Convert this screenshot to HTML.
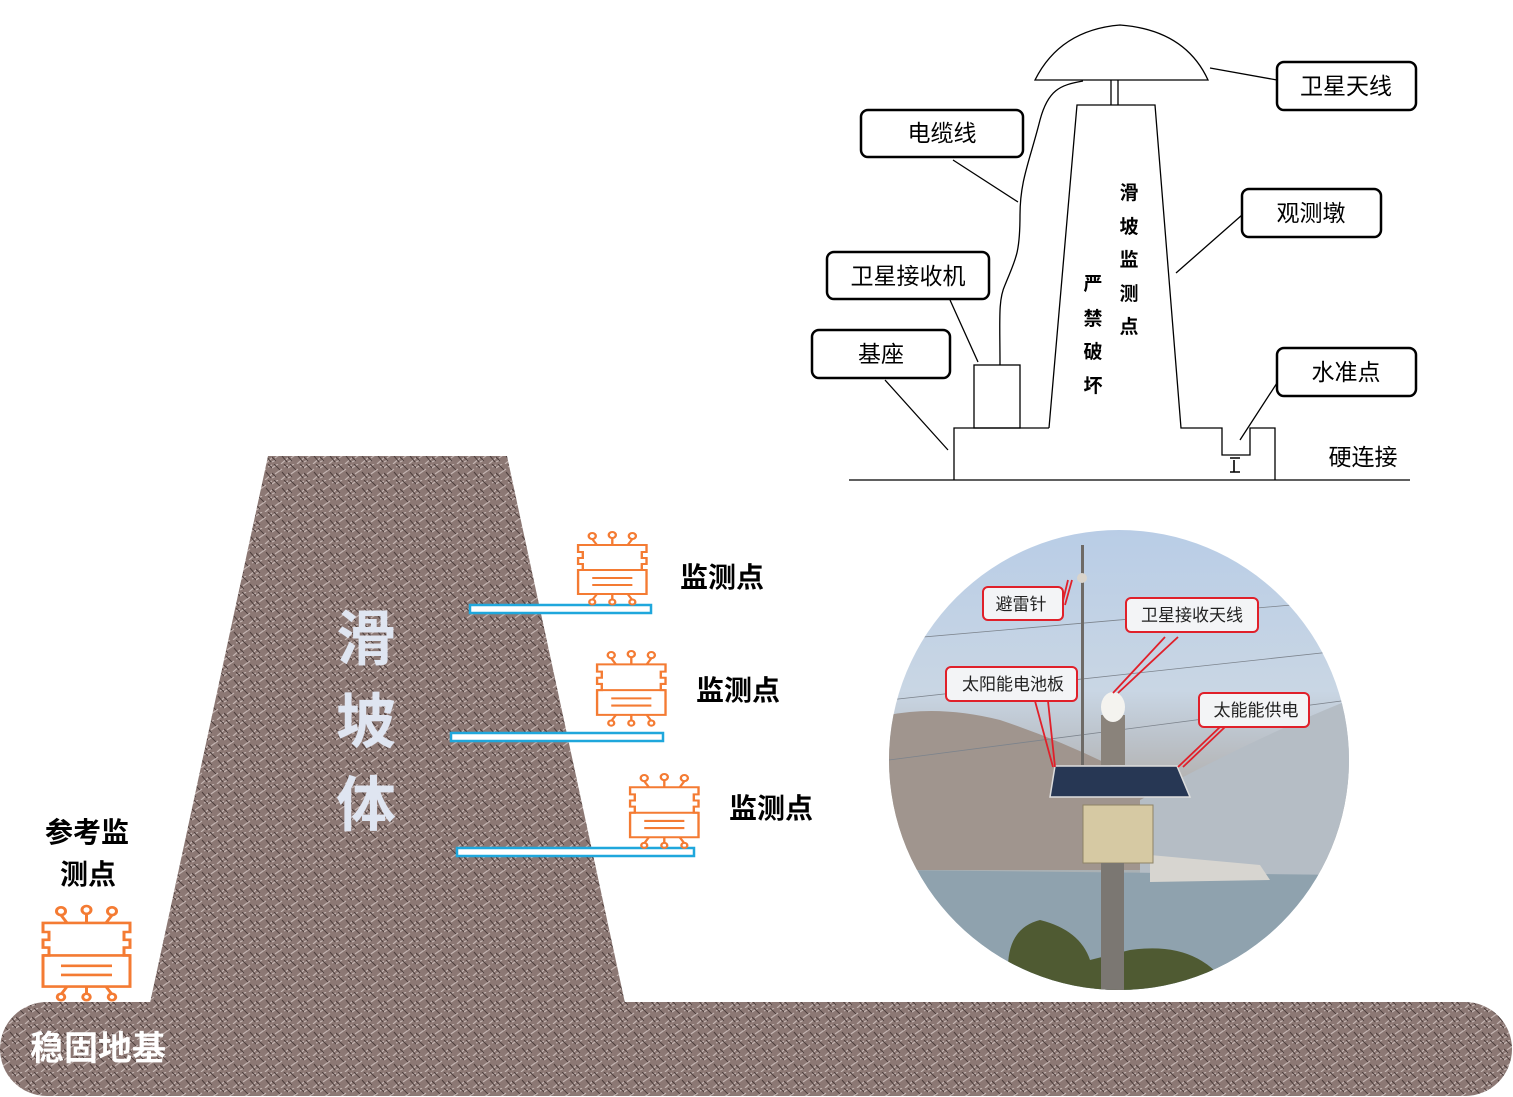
<!DOCTYPE html>
<html><head><meta charset="utf-8"><style>
html,body{margin:0;padding:0;background:#fff}
svg{display:block}
text{font-family:"Liberation Sans","Noto Sans CJK SC",sans-serif}
</style></head><body>
<svg width="1513" height="1097" viewBox="0 0 1513 1097" xmlns="http://www.w3.org/2000/svg">
<defs>
<pattern id="tex" width="16" height="16" patternUnits="userSpaceOnUse">
<rect width="16" height="16" fill="#8c7874"/>
<path d="M0 4 L6 0 M3 10 L10 5 M9 16 L16 10 M12 3 L16 1 M0 14 L4 12" stroke="#c4b5b2" stroke-width="1.2"/>
<path d="M2 0 L8 6 M10 8 L15 14 M0 9 L4 13 M12 0 L16 4" stroke="#4e3f3d" stroke-width="1"/>
</pattern>
<clipPath id="circ"><circle cx="1119" cy="760" r="230"/></clipPath>
<linearGradient id="sky" x1="0" y1="0" x2="0" y2="1">
<stop offset="0" stop-color="#b9cde6"/><stop offset="0.35" stop-color="#c9d6e4"/><stop offset="0.45" stop-color="#bcc3cb"/>
<stop offset="0.6" stop-color="#b0aaa4"/><stop offset="0.72" stop-color="#b6b0a8"/><stop offset="0.76" stop-color="#9fb1bd"/><stop offset="1" stop-color="#8ea3b1"/>
</linearGradient>
<g id="chip" fill="none" stroke="#f47b33" stroke-width="2">
<circle cx="18" cy="4" r="3"/><circle cx="35" cy="3" r="3"/><circle cx="52" cy="4" r="3"/>
<path d="M18 7 L22 13 M35 6 L35 13 M52 7 L48 13"/>
<path d="M6 13 H64 V20 H60 V26 H64 V32 H60 V38 H64 V62 H6 V38 H10 V32 H6 V26 H10 V20 H6 Z"/>
<path d="M6 38 H64 M18 46 H52 M18 53 H52"/>
<path d="M22 62 L18 68 M35 62 L35 68 M48 62 L52 68"/>
<circle cx="18" cy="70" r="2.5"/><circle cx="35" cy="70" r="2.5"/><circle cx="52" cy="70" r="2.5"/>
</g>
</defs>

<polygon points="268,456 507,456 625,1003 150,1003" fill="url(#tex)"/>
<rect x="0" y="1002" width="1512" height="94" rx="47" fill="url(#tex)"/>
<text x="30" y="1060" font-size="34" font-weight="bold" fill="#fff">稳固地基</text>
<g font-size="60" font-weight="bold" fill="#dfe5f1">
<text x="336" y="660">滑</text><text x="336" y="743">坡</text><text x="336" y="826">体</text>
</g>

<rect x="470" y="605" width="181" height="8" fill="#fff" stroke="#1fa7dc" stroke-width="2.5"/>
<rect x="451" y="733" width="212" height="8" fill="#fff" stroke="#1fa7dc" stroke-width="2.5"/>
<rect x="457" y="848" width="237" height="8" fill="#fff" stroke="#1fa7dc" stroke-width="2.5"/>

<use href="#chip" transform="translate(571,532) scale(1.18,1.0)"/>
<use href="#chip" transform="translate(590,651) scale(1.18,1.03)"/>
<use href="#chip" transform="translate(623,774) scale(1.18,1.02)"/>
<use href="#chip" transform="translate(34,906) scale(1.5,1.3)"/>

<g font-size="28" font-weight="bold" fill="#000">
<text x="680" y="587">监测点</text>
<text x="696" y="700">监测点</text>
<text x="729" y="818">监测点</text>
<text x="45" y="842">参考监</text>
<text x="60" y="884">测点</text>
</g>

<g fill="none" stroke="#000" stroke-width="1.3">
<path d="M1035 80 Q1060 30 1120 25 Q1185 30 1208 80 Z"/>
<path d="M1111 80 V105 M1118 80 V105"/>
<path d="M1049 428 L1077 105 H1155 L1181 428 H1222 V455 H1250 V428 H1275 V480"/>
<path d="M954 480 V428 H1049"/>
<rect x="974" y="365" width="46" height="63"/>
<path d="M849 480 H1410"/>
<path d="M1000 365 C1000 320 998 300 1005 285 C1015 260 1020 255 1020 215 C1020 180 1030 160 1040 120 C1048 90 1060 85 1083 81"/>
<path d="M1234 460 V472 M1230 472 H1240 M1230 458 H1240" stroke-width="1.6"/>
<path d="M1210 68 L1277 80 M953 160 L1018 202 M1242 215 L1176 273 M950 300 L978 362 M885 380 L948 450 M1277 383 L1240 440"/>
</g>
<g fill="#fff" stroke="#000" stroke-width="2.5">
<rect x="1277" y="62" width="139" height="48" rx="7"/>
<rect x="861" y="110" width="162" height="47" rx="7"/>
<rect x="1242" y="189" width="139" height="48" rx="7"/>
<rect x="827" y="252" width="162" height="47" rx="7"/>
<rect x="812" y="330" width="138" height="48" rx="7"/>
<rect x="1277" y="348" width="139" height="48" rx="7"/>
</g>
<g font-size="23" fill="#000" text-anchor="middle">
<text x="1346" y="94">卫星天线</text>
<text x="942" y="141">电缆线</text>
<text x="1311" y="221">观测墩</text>
<text x="908" y="284">卫星接收机</text>
<text x="881" y="362">基座</text>
<text x="1346" y="380">水准点</text>
<text x="1363" y="465">硬连接</text>
</g>
<g font-size="19" font-weight="bold" fill="#000" text-anchor="middle">
<text x="1129" y="199">滑</text><text x="1129" y="233">坡</text><text x="1129" y="266">监</text><text x="1129" y="300">测</text><text x="1129" y="333">点</text>
<text x="1093" y="290">严</text><text x="1093" y="325">禁</text><text x="1093" y="358">破</text><text x="1093" y="392">坏</text>
</g>

<g clip-path="url(#circ)">
<rect x="889" y="530" width="460" height="460" fill="url(#sky)"/>
<path d="M889 715 Q940 705 1000 720 Q1060 740 1120 770 Q1170 800 1200 850 L1230 870 L889 870 Z" fill="#a0958e"/>
<path d="M1140 800 Q1250 740 1349 700 V880 H1140 Z" fill="#b5bdc5"/>
<path d="M889 870 L1349 875 V990 H889 Z" fill="#8fa2ae"/>
<path d="M1150 855 L1260 865 L1270 880 L1150 882 Z" fill="#d7d5d0"/>
<path d="M1010 990 Q1000 930 1040 920 Q1080 930 1090 960 L1130 950 Q1200 940 1230 990 Z" fill="#4f5a32"/>
<path d="M889 640 L1349 600 M889 700 L1349 650 M889 760 L1349 700" stroke="#7c838c" stroke-width="0.8"/>
<rect x="1081" y="545" width="3" height="220" fill="#6e6a66"/>
<circle cx="1082" cy="578" r="5" fill="#d9d4cc"/>
<rect x="1101" y="715" width="24" height="50" fill="#8a837b"/>
<ellipse cx="1113" cy="707" rx="12" ry="15" fill="#f4f3ef"/>
<polygon points="1055,766 1177,766 1190,797 1050,797" fill="#273754" stroke="#ddd" stroke-width="1.5"/>
<rect x="1083" y="805" width="70" height="58" fill="#d6c9a3" stroke="#8e8466"/>
<rect x="1101" y="863" width="23" height="130" fill="#7b7772"/>
<path d="M1068 580 L1062 605 M1072 580 L1065 605 M1113 693 L1165 637 M1118 693 L1178 637 M1035 701 L1053 767 M1048 701 L1055 767 M1220 727 L1178 767 M1225 727 L1183 767" stroke="#e0202a" stroke-width="1.8"/>
</g>
<g fill="#f3f4f6" stroke="#e0202a" stroke-width="2">
<rect x="983" y="587" width="80" height="33" rx="5"/>
<rect x="1126" y="598" width="132" height="34" rx="5"/>
<rect x="946" y="667" width="131" height="34" rx="5"/>
<rect x="1199" y="693" width="110" height="34" rx="5"/>
</g>
<g font-size="17" fill="#222" text-anchor="middle">
<text x="1021" y="610">避雷针</text>
<text x="1192" y="621">卫星接收天线</text>
<text x="1013" y="690">太阳能电池板</text>
<text x="1256" y="716">太能能供电</text>
</g>
</svg>
</body></html>
